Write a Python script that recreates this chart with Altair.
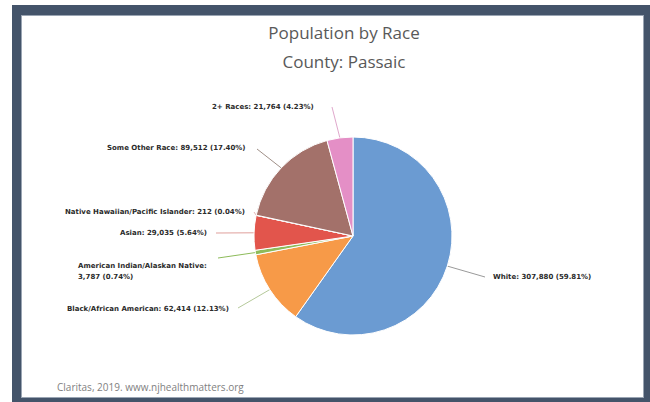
import altair as alt
import numpy as np
import pandas as pd

# Population by race, Passaic County (Claritas, 2019)
races = [
    "White",
    "Black/African American",
    "American Indian/Alaskan Native",
    "Asian",
    "Native Hawaiian/Pacific Islander",
    "Some Other Race",
    "2+ Races",
]
population = [307880, 62414, 3787, 29035, 212, 89512, 21764]
percent = [59.81, 12.13, 0.74, 5.64, 0.04, 17.40, 4.23]

# Styling
slice_colors = ["#6b9bd2", "#f79a48", "#8dbb5a", "#e2554c", "#dba3a3", "#a3716a", "#e48fc6"]
leader_colors = ["#9a9a9a", "#b5c99a", "#8dbb5a", "#e0a09c", "#e3b5b5", "#a09088", "#e0a8cc"]
FRAME = "#44546a"
FRAME_EDGE = "#9aa5b3"

# Pie geometry (pixels)
CX, CY, R = 353, 236, 99

# Where each label starts (left edge, vertical middle) and where its leader line begins
label_anchor = {
    "White": (493, 277),
    "Black/African American": (67, 309),
    "American Indian/Alaskan Native": (78, 265.5),
    "Asian": (120, 233),
    "Native Hawaiian/Pacific Islander": (65, 212),
    "Some Other Race": (107, 148),
    "2+ Races": (212, 107),
}
leader_start = {
    "White": (485, 277),
    "Black/African American": (238, 308),
    "American Indian/Alaskan Native": (218, 258),
    "Asian": (216, 233),
    "Native Hawaiian/Pacific Islander": (254, 212),
    "Some Other Race": (257, 149),
    "2+ Races": (332, 107),
}

df = pd.DataFrame({"race": races, "population": population, "percent": percent})
df["idx"] = range(len(df))
total = df["population"].sum()
cum = df["population"].cumsum()
mid = (cum - df["population"] / 2) / total * 2 * np.pi
df["ex"] = CX + R * np.sin(mid)
df["ey"] = CY - R * np.cos(mid)
df["lx"] = [leader_start[r][0] for r in races]
df["ly"] = [leader_start[r][1] for r in races]
df["tx"] = [label_anchor[r][0] for r in races]
df["ty"] = [label_anchor[r][1] for r in races]


def label_text(r, p, pc):
    if r == "American Indian/Alaskan Native":
        return f"{r}:\n{p:,} ({pc:.2f}%)"
    return f"{r}: {p:,} ({pc:.2f}%)"


df["label"] = [label_text(r, p, pc) for r, p, pc in zip(races, population, percent)]

px = lambda f: alt.X(f"{f}:Q", scale=None, axis=None)
py = lambda f: alt.Y(f"{f}:Q", scale=None, axis=None)

base = alt.Chart(df)

leaders = base.mark_rule(strokeWidth=1).encode(
    x=px("lx"), y=py("ly"), x2="ex:Q", y2="ey:Q",
    color=alt.Color("race:N", scale=alt.Scale(domain=races, range=leader_colors), legend=None),
)

pie = base.mark_arc(radius=R, stroke="white", strokeWidth=1).encode(
    theta=alt.Theta("population:Q", stack=True),
    order=alt.Order("idx:Q"),
    fill=alt.Fill("race:N", scale=alt.Scale(domain=races, range=slice_colors), legend=None),
    x=alt.value(CX),
    y=alt.value(CY),
)

labels = base.mark_text(
    align="left", baseline="middle", font="DejaVu Sans", fontSize=7,
    fontWeight="bold", color="#2b2b2b", lineBreak="\n", lineHeight=11,
).encode(x=px("tx"), y=py("ty"), text="label:N")

# Frame around the chart
frame_df = pd.DataFrame({
    "x": [12, 12, 643, 12, 21, 21, 643, 21],
    "x2": [21, 650, 650, 650, 22, 643, 644, 643],
    "y": [5, 5, 5, 398, 15, 15, 15, 397],
    "y2": [402, 15, 402, 402, 398, 16, 398, 398],
    "kind": ["b", "b", "b", "b", "e", "e", "e", "e"],
})
frame = alt.Chart(frame_df).mark_rect().encode(
    x=px("x"), x2="x2:Q", y=py("y"), y2="y2:Q",
    color=alt.Color("kind:N", scale=alt.Scale(domain=["b", "e"], range=[FRAME, FRAME_EDGE]), legend=None),
)

title_df = pd.DataFrame({
    "text": ["Population by Race", "County: Passaic"],
    "x": [344, 344], "y": [34, 63],
})
titles = alt.Chart(title_df).mark_text(
    align="center", baseline="middle", font="Open Sans", fontSize=17, color="#595959",
).encode(x=px("x"), y=py("y"), text="text:N")

footer = alt.Chart(pd.DataFrame({"text": ["Claritas, 2019. www.njhealthmatters.org"], "x": [57], "y": [388]})).mark_text(
    align="left", baseline="middle", font="Open Sans", fontSize=10, color="#7f7f7f",
).encode(x=px("x"), y=py("y"), text="text:N")

chart = alt.layer(frame, leaders, pie, labels, titles, footer).resolve_scale(
    color="independent"
).properties(
    width=650, height=402, autosize=alt.AutoSizeParams(type="none"), padding=0,
    background="white",
).configure_view(stroke=None)

chart.save("out.html", embed_options={"renderer": "svg", "actions": False})
